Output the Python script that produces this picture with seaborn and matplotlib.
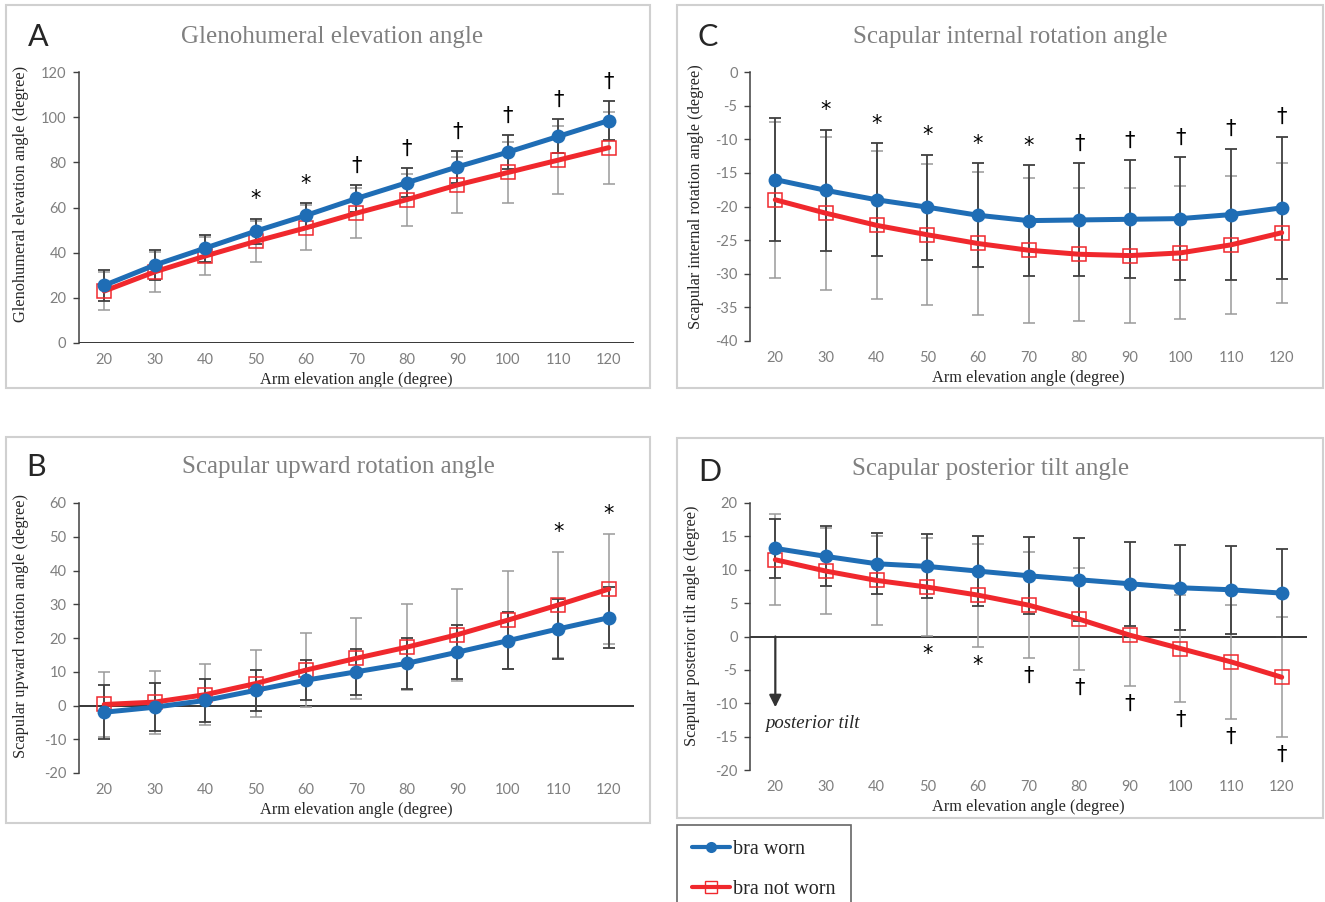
import numpy as np
import pandas as pd
import matplotlib
matplotlib.use("Agg")
import matplotlib.pyplot as plt
from matplotlib.lines import Line2D
from matplotlib.patches import Rectangle
import seaborn as sns

sns.set_style("white")
plt.rcParams["font.family"] = ["Liberation Serif", "DejaVu Serif"]
plt.rcParams["axes.unicode_minus"] = False

# arm elevation angles (x axis)
arm = [20, 30, 40, 50, 60, 70, 80, 90, 100, 110, 120]

# A: glenohumeral elevation
ghe_worn = [25.5, 34.5, 42, 49.5, 56.5, 64, 71, 78, 84.5, 91.5, 98.5]
ghe_worn_sd = [7, 6.5, 6, 5.5, 5.5, 6, 6.5, 7, 7.5, 7.5, 8.5]
ghe_not = [23, 31.5, 38.5, 45, 51, 57.5, 63.5, 70, 75.5, 81, 86.5]
ghe_not_sd = [8.5, 9, 8.5, 9, 10, 11, 11.5, 12.5, 13.5, 15, 16]
ghe_sig = ["", "", "", "*", "*", "†", "†", "†", "†", "†", "†"]

# B: scapular upward rotation
sur_worn = [-2, -0.5, 1.5, 4.5, 7.5, 10, 12.5, 15.8, 19.2, 22.7, 26]
sur_worn_sd = [8, 7.2, 6.5, 6, 6, 6.8, 7.5, 8, 8.5, 8.8, 9]
sur_not = [0.3, 1, 3.2, 6.5, 10.5, 14, 17.3, 21, 25.3, 29.8, 34.5]
sur_not_sd = [9.5, 9.3, 9.1, 9.8, 11, 12, 12.8, 13.6, 14.6, 15.8, 16.4]
sur_sig = ["", "", "", "", "", "", "", "", "", "*", "*"]

# C: scapular internal rotation
sir_worn = [-16, -17.6, -19, -20.1, -21.3, -22.1, -22, -21.9, -21.8, -21.2, -20.2]
sir_worn_sd = [9.1, 9, 8.4, 7.8, 7.7, 8.2, 8.4, 8.8, 9.1, 9.8, 10.6]
sir_not = [-19, -21, -22.8, -24.2, -25.5, -26.5, -27.1, -27.3, -26.9, -25.7, -23.9]
sir_not_sd = [11.6, 11.4, 11, 10.5, 10.7, 10.8, 9.9, 10, 9.9, 10.3, 10.4]
sir_sig = ["", "*", "*", "*", "*", "*", "†", "†", "†", "†", "†"]

# D: scapular posterior tilt
spt_worn = [13.2, 12, 10.9, 10.5, 9.8, 9.1, 8.5, 7.9, 7.3, 7, 6.5]
spt_worn_sd = [4.4, 4.5, 4.6, 4.8, 5.2, 5.8, 6.2, 6.3, 6.4, 6.6, 6.6]
spt_not = [11.5, 9.8, 8.4, 7.4, 6.2, 4.7, 2.6, 0.2, -1.8, -3.8, -6.1]
spt_not_sd = [6.8, 6.5, 6.7, 7.3, 7.7, 7.9, 7.6, 7.6, 8, 8.5, 9]
spt_sig = ["", "", "", "*", "*", "†", "†", "†", "†", "†", "†"]

BLUE = "#1f6db5"
RED = "#f0282d"
TICK_GRAY = "#7f7f7f"
SANS = ["Lato", "DejaVu Sans"]

W, H = 1325, 902
fig = plt.figure(figsize=(W / 100, H / 100), dpi=100)


def px(x, y):
    return x / W, 1 - y / H


def draw_panel(rect, worn, worn_sd, not_worn, not_sd, sig, below, ylim, ystep,
               ylabel, zero_line, ylab_xy):
    ax = fig.add_axes(rect)
    worn, worn_sd = np.array(worn), np.array(worn_sd)
    not_worn, not_sd = np.array(not_worn), np.array(not_sd)

    ax.errorbar(arm, not_worn, yerr=not_sd, fmt="none", ecolor="#9a9a9a",
                elinewidth=1.1, capsize=4, capthick=1.1, zorder=2)
    ax.errorbar(arm, worn, yerr=worn_sd, fmt="none", ecolor="#404040",
                elinewidth=1.3, capsize=4, capthick=1.3, zorder=2)
    if zero_line:
        ax.axhline(0, color="black", lw=1.1, zorder=1)

    df = pd.DataFrame({"arm": arm, "worn": worn, "not": not_worn})
    sns.lineplot(data=df, x="arm", y="not", ax=ax, color=RED, lw=3.6,
                 marker="s", markersize=10, markerfacecolor="none",
                 markeredgecolor=RED, markeredgewidth=1.1, zorder=3)
    sns.lineplot(data=df, x="arm", y="worn", ax=ax, color=BLUE, lw=3.6,
                 marker="o", markersize=10, markerfacecolor=BLUE,
                 markeredgecolor=BLUE, markeredgewidth=0, zorder=4)

    # significance marks beyond the outermost error bar
    if below:
        ends = np.minimum(worn - worn_sd, not_worn - not_sd)
        off = -13
    else:
        ends = np.maximum(worn + worn_sd, not_worn + not_sd)
        off = 14
    for x, e, s in zip(arm, ends, sig):
        if s:
            ax.annotate(s, (x, e), xytext=(0, off), textcoords="offset points",
                        ha="center", va="center", fontsize=15,
                        family=["DejaVu Sans"], color="black")

    ax.set_xlim(15, 125)
    ax.set_ylim(*ylim)
    ax.set_xticks(arm)
    ax.set_yticks(np.arange(ylim[0], ylim[1] + 0.1, ystep))
    for s in ["top", "right", "bottom"]:
        ax.spines[s].set_visible(False)
    ax.spines["left"].set_color("#404040")
    ax.spines["left"].set_linewidth(1.1)
    ax.tick_params(axis="x", length=0, pad=7, labelsize=10.5,
                   labelcolor=TICK_GRAY)
    ax.tick_params(axis="y", left=True, length=4, width=1, color="#404040",
                   pad=5, labelsize=10.5, labelcolor=TICK_GRAY)
    for t in ax.get_xticklabels() + ax.get_yticklabels():
        t.set_family(SANS)
    ax.set_xlabel("Arm elevation angle (degree)", fontsize=11.8, labelpad=4)
    ax.set_ylabel(ylabel, fontsize=11.8)
    ax.yaxis.set_label_coords(*ylab_xy)
    return ax


axA = draw_panel([79 / W, 1 - 343 / H, 555 / W, 271 / H],
                 ghe_worn, ghe_worn_sd, ghe_not, ghe_not_sd, ghe_sig, False,
                 (0, 120), 20, "Glenohumeral elevation angle (degree)", True,
                 (-0.09, 0.55))
axC = draw_panel([750 / W, 1 - 341 / H, 557 / W, 269 / H],
                 sir_worn, sir_worn_sd, sir_not, sir_not_sd, sir_sig, False,
                 (-40, 0), 5, "Scapular internal rotation angle (degree)", False,
                 (-0.083, 0.535))
axB = draw_panel([79 / W, 1 - 773 / H, 555 / W, 270 / H],
                 sur_worn, sur_worn_sd, sur_not, sur_not_sd, sur_sig, False,
                 (-20, 60), 10, "Scapular upward rotation angle (degree)", True,
                 (-0.09, 0.544))
axD = draw_panel([750 / W, 1 - 770 / H, 557 / W, 267 / H],
                 spt_worn, spt_worn_sd, spt_not, spt_not_sd, spt_sig, True,
                 (-20, 20), 5, "Scapular posterior tilt angle (degree)", True,
                 (-0.09, 0.539))

# posterior tilt arrow
axD.annotate("", xy=(20, -10.6), xytext=(20, 0),
             arrowprops=dict(arrowstyle="-|>", color="#333333", lw=1.6,
                             mutation_scale=18, shrinkA=0, shrinkB=0))
axD.text(18, -13, "posterior tilt", fontsize=13.5, style="italic",
         ha="left", va="center")

# panel frames, letters and titles
frames = [(6, 5, 650, 388), (677, 5, 1323, 388),
          (6, 437, 650, 823), (677, 438, 1323, 818)]
for x0, y0, x1, y1 in frames:
    fig.add_artist(Rectangle(px(x0, y1), (x1 - x0) / W, (y1 - y0) / H,
                             transform=fig.transFigure, fill=False,
                             edgecolor="#d0d0d0", lw=1.5))

letters = [("A", 38, 37), ("C", 708, 37), ("B", 36, 467), ("D", 710, 472)]
for s, x, y in letters:
    fig.text(*px(x, y), s, fontsize=22, family=SANS, ha="center", va="center")

titles = [("Glenohumeral elevation angle", 332, 37),
          ("Scapular internal rotation angle", 1010, 37),
          ("Scapular upward rotation angle", 338, 467),
          ("Scapular posterior tilt angle", 991, 469)]
for s, x, y in titles:
    fig.text(*px(x, y), s, fontsize=18, color="#808080",
             ha="center", va="center")

handles = [Line2D([], [], color=BLUE, lw=3, marker="o", markersize=8,
                  markeredgewidth=0),
           Line2D([], [], color=RED, lw=3, marker="s", markersize=8,
                  markerfacecolor="none", markeredgecolor=RED,
                  markeredgewidth=1)]
leg = fig.legend(handles, ["bra worn", "bra not worn"], loc="upper left",
                 bbox_to_anchor=px(677, 825), frameon=True, fancybox=False,
                 edgecolor="#404040", borderaxespad=0, fontsize=14.5,
                 labelspacing=1.05, handlelength=1.9, handletextpad=0.15,
                 borderpad=0.75)
leg.get_frame().set_linewidth(1.2)

fig.savefig("out.png", dpi=100)
